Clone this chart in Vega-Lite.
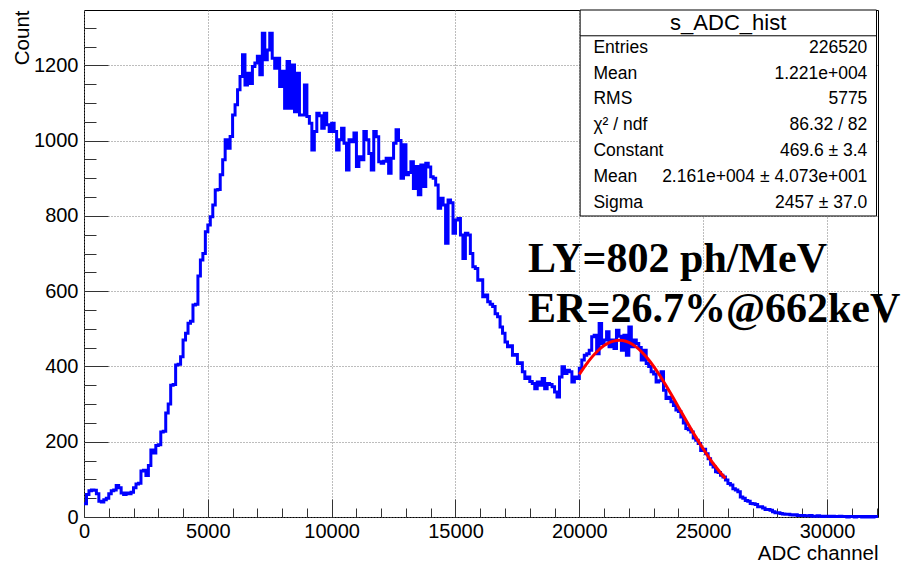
{
  "$schema": "https://vega.github.io/schema/vega-lite/v6.json",
  "width": 794,
  "height": 507,
  "autosize": "none",
  "padding": {"left": 84, "top": 10, "right": 29, "bottom": 45},
  "background": "white",
  "config": {
    "view": {"stroke": "black", "strokeWidth": 1},
    "axis": {"labelFont": "Liberation Sans", "titleFont": "Liberation Sans", "labelColor": "black", "titleColor": "black", "gridColor": "#7a7a7a", "gridDash": [1, 2], "gridOpacity": 1, "tickColor": "#333", "tickOpacity": 1, "titleFontWeight": "normal"}
  },
  "datasets": {
    "hist": [
      {"x":0,"c":35},{"x":100,"c":60},{"x":200,"c":70},{"x":300,"c":72},{"x":400,"c":71},{"x":500,"c":62},{"x":600,"c":42},{"x":700,"c":40},{"x":800,"c":46},{"x":900,"c":50},
      {"x":1000,"c":62},{"x":1100,"c":70},{"x":1200,"c":72},{"x":1300,"c":84},{"x":1400,"c":78},{"x":1500,"c":64},{"x":1600,"c":60},{"x":1700,"c":64},{"x":1800,"c":62},{"x":1900,"c":66},
      {"x":2000,"c":78},{"x":2100,"c":88},{"x":2200,"c":90},{"x":2300,"c":122},{"x":2400,"c":124},{"x":2500,"c":110},{"x":2600,"c":137},{"x":2700,"c":178},{"x":2800,"c":170},{"x":2900,"c":190},
      {"x":3000,"c":192},{"x":3100,"c":226},{"x":3200,"c":228},{"x":3300,"c":276},{"x":3400,"c":300},{"x":3500,"c":350},{"x":3600,"c":352},{"x":3700,"c":404},{"x":3800,"c":406},{"x":3900,"c":426},
      {"x":4000,"c":470},{"x":4100,"c":488},{"x":4200,"c":515},{"x":4300,"c":520},{"x":4400,"c":563},{"x":4500,"c":565},{"x":4600,"c":640},{"x":4700,"c":683},{"x":4800,"c":700},{"x":4900,"c":758},
      {"x":5000,"c":776},{"x":5100,"c":798},{"x":5200,"c":829},{"x":5300,"c":869},{"x":5400,"c":870},{"x":5500,"c":909},{"x":5600,"c":949},{"x":5700,"c":1002},{"x":5800,"c":980},{"x":5900,"c":1011},
      {"x":6000,"c":1068},{"x":6100,"c":1095},{"x":6200,"c":1135},{"x":6300,"c":1170},{"x":6400,"c":1228},{"x":6500,"c":1148},{"x":6600,"c":1179},{"x":6700,"c":1152},{"x":6800,"c":1197},{"x":6900,"c":1206},
      {"x":7000,"c":1224},{"x":7100,"c":1175},{"x":7200,"c":1285},{"x":7300,"c":1215},{"x":7400,"c":1241},{"x":7500,"c":1285},{"x":7600,"c":1219},{"x":7700,"c":1192},{"x":7800,"c":1219},{"x":7900,"c":1144},
      {"x":8000,"c":1184},{"x":8100,"c":1086},{"x":8200,"c":1210},{"x":8300,"c":1086},{"x":8400,"c":1201},{"x":8500,"c":1077},{"x":8600,"c":1179},{"x":8700,"c":1068},{"x":8800,"c":1068},{"x":8900,"c":1148},
      {"x":9000,"c":1064},{"x":9100,"c":1046},{"x":9200,"c":975},{"x":9300,"c":1024},{"x":9400,"c":1073},{"x":9500,"c":1066},{"x":9600,"c":1033},{"x":9700,"c":1073},{"x":9800,"c":1042},{"x":9900,"c":1024},
      {"x":10000,"c":1046},{"x":10100,"c":1024},{"x":10200,"c":975},{"x":10300,"c":1002},{"x":10400,"c":1033},{"x":10500,"c":993},{"x":10600,"c":922},{"x":10700,"c":1002},{"x":10800,"c":997},{"x":10900,"c":1020},
      {"x":11000,"c":931},{"x":11100,"c":957},{"x":11200,"c":949},{"x":11300,"c":1024},{"x":11400,"c":1002},{"x":11500,"c":966},{"x":11600,"c":922},{"x":11700,"c":1024},{"x":11800,"c":1010},{"x":11900,"c":944},
      {"x":12000,"c":940},{"x":12100,"c":945},{"x":12200,"c":953},{"x":12300,"c":913},{"x":12400,"c":953},{"x":12500,"c":993},{"x":12600,"c":1029},{"x":12700,"c":1000},{"x":12800,"c":900},{"x":12900,"c":989},
      {"x":13000,"c":909},{"x":13100,"c":915},{"x":13200,"c":944},{"x":13300,"c":873},{"x":13400,"c":931},{"x":13500,"c":856},{"x":13600,"c":935},{"x":13700,"c":878},{"x":13800,"c":940},{"x":13900,"c":930},
      {"x":14000,"c":904},{"x":14100,"c":900},{"x":14200,"c":882},{"x":14300,"c":820},{"x":14400,"c":847},{"x":14500,"c":829},{"x":14600,"c":727},{"x":14700,"c":842},{"x":14800,"c":835},{"x":14900,"c":754},
      {"x":15000,"c":789},{"x":15100,"c":793},{"x":15200,"c":749},{"x":15300,"c":687},{"x":15400,"c":754},{"x":15500,"c":749},{"x":15600,"c":700},{"x":15700,"c":665},{"x":15800,"c":660},{"x":15900,"c":629},
      {"x":16000,"c":630},{"x":16100,"c":585},{"x":16200,"c":590},{"x":16300,"c":572},{"x":16400,"c":565},{"x":16500,"c":559},{"x":16600,"c":540},{"x":16700,"c":532},{"x":16800,"c":505},{"x":16900,"c":488},
      {"x":17000,"c":465},{"x":17100,"c":452},{"x":17200,"c":455},{"x":17300,"c":430},{"x":17400,"c":432},{"x":17500,"c":408},{"x":17600,"c":410},{"x":17700,"c":386},{"x":17800,"c":368},{"x":17900,"c":372},
      {"x":18000,"c":360},{"x":18100,"c":355},{"x":18200,"c":341},{"x":18300,"c":359},{"x":18400,"c":350},{"x":18500,"c":368},{"x":18600,"c":341},{"x":18700,"c":355},{"x":18800,"c":352},{"x":18900,"c":346},
      {"x":19000,"c":332},{"x":19100,"c":319},{"x":19200,"c":372},{"x":19300,"c":399},{"x":19400,"c":381},{"x":19500,"c":390},{"x":19600,"c":386},{"x":19700,"c":359},{"x":19800,"c":372},{"x":19900,"c":368},
      {"x":20000,"c":395},{"x":20100,"c":417},{"x":20200,"c":430},{"x":20300,"c":434},{"x":20400,"c":443},{"x":20500,"c":479},{"x":20600,"c":483},{"x":20700,"c":434},{"x":20800,"c":514},{"x":20900,"c":461},
      {"x":21000,"c":470},{"x":21100,"c":492},{"x":21200,"c":452},{"x":21300,"c":470},{"x":21400,"c":448},{"x":21500,"c":496},{"x":21600,"c":480},{"x":21700,"c":443},{"x":21800,"c":483},{"x":21900,"c":430},
      {"x":22000,"c":505},{"x":22100,"c":452},{"x":22200,"c":470},{"x":22300,"c":461},{"x":22400,"c":450},{"x":22500,"c":417},{"x":22600,"c":443},{"x":22700,"c":408},{"x":22800,"c":400},{"x":22900,"c":386},
      {"x":23000,"c":380},{"x":23100,"c":359},{"x":23200,"c":362},{"x":23300,"c":386},{"x":23400,"c":337},{"x":23500,"c":315},{"x":23600,"c":318},{"x":23700,"c":306},{"x":23800,"c":296},{"x":23900,"c":284},
      {"x":24000,"c":280},{"x":24100,"c":266},{"x":24200,"c":250},{"x":24300,"c":235},{"x":24400,"c":232},{"x":24500,"c":226},{"x":24600,"c":210},{"x":24700,"c":204},{"x":24800,"c":195},{"x":24900,"c":177},
      {"x":25000,"c":180},{"x":25100,"c":168},{"x":25200,"c":155},{"x":25300,"c":140},{"x":25400,"c":133},{"x":25500,"c":120},{"x":25600,"c":118},{"x":25700,"c":111},{"x":25800,"c":106},{"x":25900,"c":98},
      {"x":26000,"c":89},{"x":26100,"c":85},{"x":26200,"c":75},{"x":26300,"c":72},{"x":26400,"c":67},{"x":26500,"c":53},{"x":26600,"c":50},{"x":26700,"c":44},{"x":26800,"c":42},{"x":26900,"c":36},
      {"x":27000,"c":35},{"x":27100,"c":33},{"x":27200,"c":27},{"x":27300,"c":27},{"x":27400,"c":24},{"x":27500,"c":20},{"x":27600,"c":20},{"x":27700,"c":18},{"x":27800,"c":14},{"x":27900,"c":11},
      {"x":28000,"c":11},{"x":28100,"c":9},{"x":28200,"c":8},{"x":28300,"c":7},{"x":28400,"c":7},{"x":28500,"c":6},{"x":28600,"c":5},{"x":28700,"c":6},{"x":28800,"c":4},{"x":28900,"c":4},
      {"x":29000,"c":4},{"x":29100,"c":3},{"x":29200,"c":3},{"x":29300,"c":4},{"x":29400,"c":2},{"x":29500,"c":2},{"x":29600,"c":3},{"x":29700,"c":2},{"x":29800,"c":1},{"x":29900,"c":2},
      {"x":30000,"c":2},{"x":30100,"c":1},{"x":30200,"c":2},{"x":30300,"c":1},{"x":30400,"c":1},{"x":30500,"c":2},{"x":30600,"c":1},{"x":30700,"c":1},{"x":30800,"c":0},{"x":30900,"c":1},
      {"x":31000,"c":1},{"x":31100,"c":0},{"x":31200,"c":1},{"x":31300,"c":1},{"x":31400,"c":0},{"x":31500,"c":1},{"x":31600,"c":0},{"x":31700,"c":1},{"x":31800,"c":0},{"x":31900,"c":1},
      {"x":32060,"c":1}
    ],
    "fit": [
      {"x":20000,"f":378.9},{"x":20250,"f":402.9},{"x":20500,"f":424.1},{"x":20750,"f":441.7},{"x":21000,"f":455.4},{"x":21250,"f":464.6},{"x":21500,"f":469.1},{"x":21610,"f":469.6},{"x":21750,"f":468.8},{"x":22000,"f":463.7},
      {"x":22250,"f":453.9},{"x":22500,"f":439.8},{"x":22750,"f":421.7},{"x":23000,"f":400.2},{"x":23250,"f":375.8},{"x":23500,"f":349.3},{"x":23750,"f":321.4},{"x":24000,"f":292.6},{"x":24250,"f":263.7},{"x":24500,"f":235.1},
      {"x":24750,"f":207.5},{"x":25000,"f":181.3},{"x":25250,"f":156.7},{"x":25500,"f":134.1},{"x":25750,"f":113.6},{"x":25900,"f":102.3}
    ],
    "box": [{"x":20032,"x2":32000,"y":799.7,"y2":1347}],
    "sep": [{"x":20032,"x2":32000,"y":1278.5}],
    "boxtitle": [{"x":26010,"y":1313,"t":"s_ADC_hist"}],
    "statlabels": [
      {"x":20570,"y":1246.5,"t":"Entries"},
      {"x":20570,"y":1177.9,"t":"Mean"},
      {"x":20570,"y":1109.3,"t":"RMS"},
      {"x":20570,"y":1040.7,"t":"χ² / ndf"},
      {"x":20570,"y":972.1,"t":"Constant"},
      {"x":20570,"y":903.5,"t":"Mean"},
      {"x":20570,"y":834.8,"t":"Sigma"}
    ],
    "statvalues": [
      {"x":31630,"y":1246.5,"t":"226520"},
      {"x":31630,"y":1177.9,"t":"1.221e+004"},
      {"x":31630,"y":1109.3,"t":"5775"},
      {"x":31630,"y":1040.7,"t":"86.32 / 82"},
      {"x":31630,"y":972.1,"t":"469.6 ± 3.4"},
      {"x":31630,"y":903.5,"t":"2.161e+004 ± 4.073e+001"},
      {"x":31630,"y":834.8,"t":"2457 ± 37.0"}
    ],
    "big": [
      {"x":17932,"y":650.8,"t":"LY=802 ph/MeV"},
      {"x":17932,"y":517.8,"t":"ER=26.7%@662keV"}
    ]
  },
  "resolve": {"axis": {"x": "independent", "y": "independent"}},
  "layer": [
    {
      "data": {"name": "hist"},
      "mark": {"type": "line", "interpolate": "step-after", "color": "#0000ff", "strokeWidth": 3},
      "encoding": {
        "x": {"field": "x", "type": "quantitative", "scale": {"domain": [0, 32060], "nice": false, "zero": false},
          "axis": {"orient": "bottom", "values": [0,5000,10000,15000,20000,25000,30000], "grid": true, "ticks": false, "domain": false, "labelFontSize": 20, "labelPadding": 4, "labelFlush": false, "format": "d", "title": "ADC channel", "titleFontSize": 20.5, "titleAnchor": "end", "titleAlign": "right", "titleBaseline": "alphabetic", "titleX": 794, "titleY": 42}},
        "y": {"field": "c", "type": "quantitative", "scale": {"domain": [0, 1347], "nice": false},
          "axis": {"orient": "left", "values": [0,200,400,600,800,1000,1200], "grid": true, "ticks": false, "domain": false, "labelFontSize": 20, "labelPadding": 6, "labelFlush": false, "format": "d", "title": "Count", "titleFontSize": 20.5, "titleAngle": -90, "titleAlign": "right", "titleBaseline": "middle", "titleX": -62, "titleY": 0}}
      }
    },
    {
      "data": {"name": "fit"},
      "mark": {"type": "line", "interpolate": "monotone", "color": "#ff0000", "strokeWidth": 3},
      "encoding": {
        "x": {"field": "x", "type": "quantitative",
          "axis": {"orient": "bottom", "values": [0,5000,10000,15000,20000,25000,30000], "grid": false, "ticks": true, "tickSize": -18, "labels": false, "domain": false, "title": null}},
        "y": {"field": "f", "type": "quantitative",
          "axis": {"orient": "left", "values": [0,200,400,600,800,1000,1200], "grid": false, "ticks": true, "tickSize": -24, "labels": false, "domain": false, "title": null}}
      }
    },
    {
      "data": {"name": "box"},
      "mark": {"type": "rect", "fill": "white", "stroke": "black", "strokeWidth": 1},
      "encoding": {
        "x": {"field": "x", "type": "quantitative",
          "axis": {"orient": "bottom", "values": [1000,2000,3000,4000,6000,7000,8000,9000,11000,12000,13000,14000,16000,17000,18000,19000,21000,22000,23000,24000,26000,27000,28000,29000,31000,32000], "grid": false, "ticks": true, "tickSize": -9, "labels": false, "domain": false, "title": null}},
        "x2": {"field": "x2"},
        "y": {"field": "y", "type": "quantitative",
          "axis": {"orient": "left", "values": [50,100,150,250,300,350,450,500,550,650,700,750,850,900,950,1050,1100,1150,1250,1300], "grid": false, "ticks": true, "tickSize": -12, "labels": false, "domain": false, "title": null}},
        "y2": {"field": "y2"}
      }
    },
    {
      "data": {"name": "sep"},
      "mark": {"type": "rule", "color": "black", "strokeWidth": 1},
      "encoding": {
        "x": {"field": "x", "type": "quantitative", "axis": null},
        "x2": {"field": "x2"},
        "y": {"field": "y", "type": "quantitative", "axis": null}
      }
    },
    {
      "data": {"name": "boxtitle"},
      "mark": {"type": "text", "font": "Liberation Sans", "fontSize": 22, "align": "center", "baseline": "middle", "color": "black"},
      "encoding": {
        "x": {"field": "x", "type": "quantitative", "axis": null},
        "y": {"field": "y", "type": "quantitative", "axis": null},
        "text": {"field": "t"}
      }
    },
    {
      "data": {"name": "statlabels"},
      "mark": {"type": "text", "font": "Liberation Sans", "fontSize": 17.5, "align": "left", "baseline": "middle", "color": "black"},
      "encoding": {
        "x": {"field": "x", "type": "quantitative", "axis": null},
        "y": {"field": "y", "type": "quantitative", "axis": null},
        "text": {"field": "t"}
      }
    },
    {
      "data": {"name": "statvalues"},
      "mark": {"type": "text", "font": "Liberation Sans", "fontSize": 17.5, "align": "right", "baseline": "middle", "color": "black"},
      "encoding": {
        "x": {"field": "x", "type": "quantitative", "axis": null},
        "y": {"field": "y", "type": "quantitative", "axis": null},
        "text": {"field": "t"}
      }
    },
    {
      "data": {"name": "big"},
      "mark": {"type": "text", "font": "Liberation Serif", "fontSize": 42, "fontWeight": "bold", "align": "left", "baseline": "alphabetic", "color": "black"},
      "encoding": {
        "x": {"field": "x", "type": "quantitative", "axis": null},
        "y": {"field": "y", "type": "quantitative", "axis": null},
        "text": {"field": "t"}
      }
    }
  ]
}
